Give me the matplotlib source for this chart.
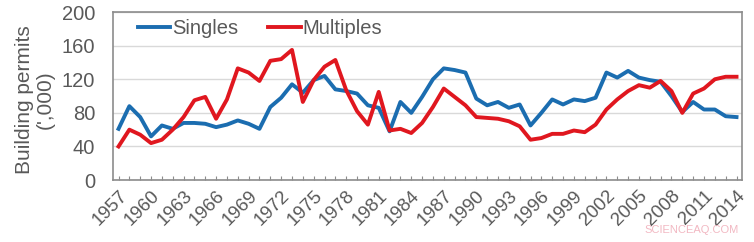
import numpy as np
import matplotlib.pyplot as plt

years = list(range(1957, 2015))
singles = [61, 88, 75, 52, 65, 61, 68, 68, 67, 63,
           66, 71, 67, 61, 87, 98, 114, 104, 119, 124,
           108, 106, 103, 89, 86, 58, 93, 80, 99, 120,
           133, 131, 128, 97, 89, 93, 86, 90, 65, 80,
           96, 90, 96, 94, 98, 128, 122, 130, 122, 119,
           117, 100, 81, 93, 84, 84, 76, 75]
multiples = [40, 60, 54, 44, 48, 60, 75, 95, 99, 73,
             96, 133, 128, 118, 142, 144, 155, 93, 119, 135,
             143, 107, 82, 66, 105, 59, 61, 56, 68, 87,
             109, 99, 89, 75, 74, 73, 70, 64, 48, 50,
             55, 55, 59, 57, 66, 84, 96, 106, 113, 110,
             118, 106, 80, 103, 109, 120, 123, 123]
yticks = [0, 40, 80, 120, 160, 200]

text_col = '#595959'
plt.rcParams['font.family'] = ['Liberation Sans', 'DejaVu Sans']

fig = plt.figure(figsize=(7.54, 2.42), dpi=100)
ax = fig.add_axes([0.150, 0.256, 0.834, 0.694])

x = np.arange(len(years))
ax.plot(x, singles, color='#1b6db0', lw=2.8, label='Singles', solid_joinstyle='round')
ax.plot(x, multiples, color='#e0171f', lw=2.8, label='Multiples', solid_joinstyle='round')

ax.set_xlim(-0.5, len(years) - 0.5)
ax.set_ylim(0, 200)
ax.set_yticks(yticks)
ax.grid(axis='y', color='#d9d9d9', lw=1)
ax.set_axisbelow(True)

ax.set_xticks(x)
ax.set_xticklabels([str(y) if (y - 1957) % 3 == 0 else '' for y in years],
                   rotation=45, ha='right', rotation_mode='anchor')
ax.tick_params(axis='x', direction='in', length=3, width=0.8, color='#8c8c8c',
               labelsize=13.5, labelcolor=text_col, pad=5)
ax.tick_params(axis='y', length=0, labelsize=14.5, labelcolor=text_col, pad=13)

for s in ax.spines.values():
    s.set_color('#8c8c8c')
    s.set_linewidth(1.2)

ax.set_ylabel("Building permits\n(',000)", fontsize=15, color=text_col, linespacing=1.15)
ax.yaxis.set_label_coords(-0.092, 0.48)

ax.legend(loc='upper left', ncol=2, frameon=False, fontsize=14.5, labelcolor=text_col,
          handlelength=1.6, handletextpad=0.1, columnspacing=1.5,
          bbox_to_anchor=(0.02, 1.03), borderaxespad=0.2)

fig.text(0.98, 0.03, 'SCIENCEAQ.COM', color='#f2b8c2', fontsize=8, ha='right', va='bottom')

fig.savefig('out.png', dpi=100)
